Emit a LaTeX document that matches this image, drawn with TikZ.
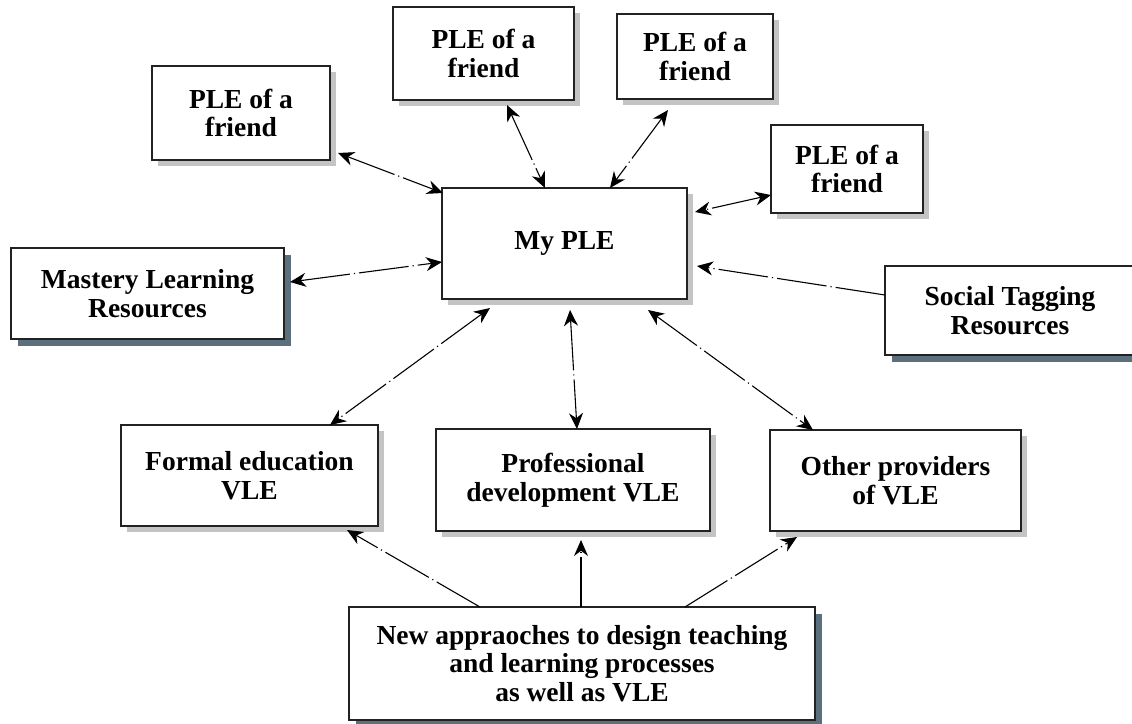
\documentclass[tikz,border=0pt]{standalone}
\usepackage{fontspec}
\setmainfont{Liberation Serif}
\usetikzlibrary{arrows.meta,shadows}
\definecolor{lightshadow}{HTML}{C4C4C4}
\definecolor{darkshadow}{HTML}{5C6F7C}
\definecolor{boxline}{HTML}{222222}
\tikzset{
  box/.style={draw=boxline, line width=1.8pt, fill=white, anchor=north west,
    inner sep=0pt, outer sep=0pt, align=center,
    font=\fontsize{27.5}{28.5}\selectfont\bfseries},
  lshadow/.style={drop shadow={shadow xshift=6pt, shadow yshift=-6pt, fill=lightshadow, opacity=1}},
  dshadow/.style={drop shadow={shadow xshift=7pt, shadow yshift=-7pt, fill=darkshadow, opacity=1}},
  conn/.style={line width=1.1pt, draw=black,
    dash pattern=on 50pt off 4pt on 1.2pt off 4pt},
  both/.style={conn, {Stealth[length=16pt,width=14pt]}-{Stealth[length=16pt,width=14pt]}},
  one/.style={conn, -{Stealth[length=16pt,width=14pt]}},
}
\begin{document}
\begin{tikzpicture}[x=1pt,y=-1pt]
\useasboundingbox (0,0) rectangle (1132,723);
\fill[white] (0,0) rectangle (1132,723);

\node[box,lshadow,minimum width=178pt,minimum height=94pt] (f1) at (152,66) {PLE of a\\friend};
\node[box,lshadow,minimum width=181pt,minimum height=93pt] (f2) at (393,7) {PLE of a\\friend};
\node[box,lshadow,minimum width=156pt,minimum height=85pt] (f3) at (617,14) {PLE of a\\friend};
\node[box,lshadow,minimum width=152pt,minimum height=88pt] (f4) at (771,125) {PLE of a\\friend};
\node[box,lshadow,minimum width=245pt,minimum height=111pt] (ple) at (442,188) {My PLE};
\node[box,dshadow,minimum width=273pt,minimum height=91pt] (mlr) at (11,248) {Mastery Learning\\Resources};
\node[box,dshadow,minimum width=250pt,minimum height=89pt] (str) at (885,266) {Social Tagging\\Resources};
\node[box,lshadow,minimum width=257pt,minimum height=101pt] (fe) at (121,425) {Formal education\\VLE};
\node[box,lshadow,minimum width=274pt,minimum height=102pt] (pd) at (436,429) {Professional\\development VLE};
\node[box,lshadow,minimum width=251pt,minimum height=101pt] (op) at (770,430) {Other providers\\of VLE};
\node[box,dshadow,minimum width=466pt,minimum height=113pt] (na) at (349,607) {New appraoches to design teaching\\and learning processes\\as well as VLE};

% connectors
\draw[both] ([shift={(8,-7)}]f1.south east) -- ([shift={(1,5)}]ple.north west);
\draw[both] ([shift={(-67,5)}]f2.south east) -- ([shift={(103,0)}]ple.north west);
\draw[both] ([shift={(51,11)}]f3.south west) -- ([shift={(168,0)}]ple.north west);
\draw[both] ([shift={(0,-18)}]f4.south west) -- ([shift={(8,24)}]ple.north east);
\draw[both] ([shift={(6,34)}]mlr.north east) -- ([shift={(0,74)}]ple.north west);
\draw[one] ([shift={(0,29)}]str.north west) -- ([shift={(10,78)}]ple.north east);
\draw[both] ([shift={(48,9)}]ple.south west) -- ([shift={(209,0)}]fe.north west);
\draw[both] ([shift={(128,11)}]ple.south west) -- ([shift={(141,0)}]pd.north west);
\draw[both] ([shift={(206,11)}]ple.south west) -- ([shift={(43,0)}]op.north west);
\draw[one] ([shift={(131,0)}]na.north west) -- ([shift={(226,4)}]fe.south west);
\draw[one] ([shift={(232,0)}]na.north west) -- ([shift={(145,9)}]pd.south west);
\draw[one] ([shift={(336,0)}]na.north west) -- ([shift={(27,6)}]op.south west);
\end{tikzpicture}
\end{document}
